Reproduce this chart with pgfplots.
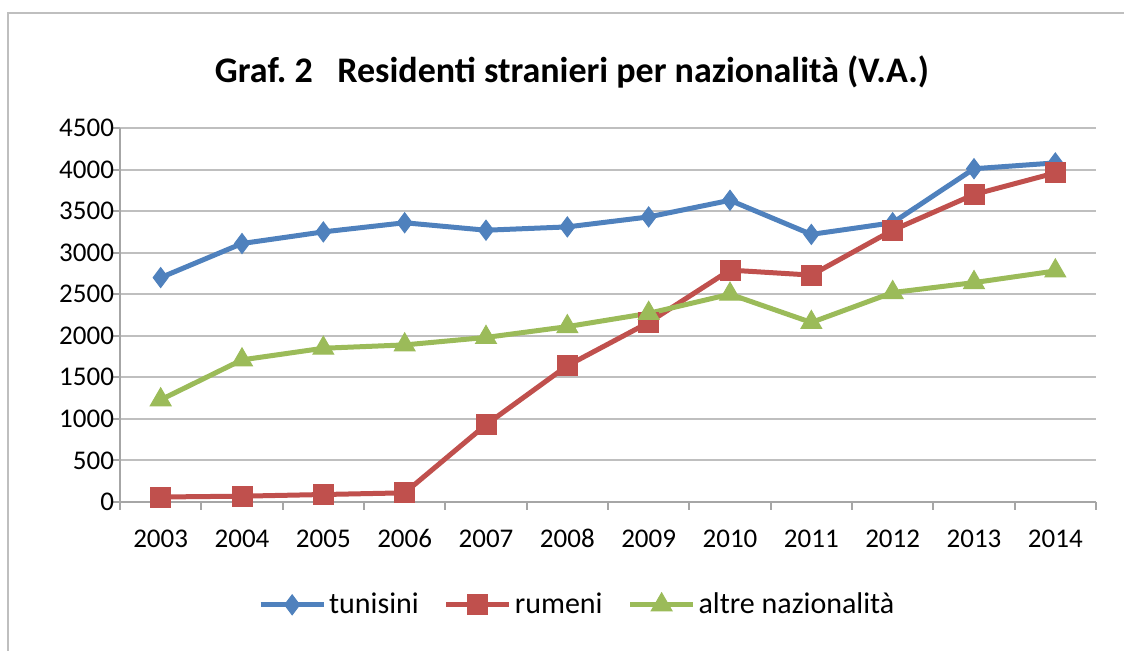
\documentclass[border=0pt]{standalone}
\usepackage{pgfplots}
\pgfplotsset{compat=1.18}
\usepackage{fontspec}
\setmainfont{Carlito}

\definecolor{tunblue}{HTML}{4F81BD}
\definecolor{rumred}{HTML}{C0504D}
\definecolor{altgreen}{HTML}{9BBB59}
\definecolor{gridgray}{HTML}{BFBFBF}
\definecolor{axgray}{HTML}{A6A6A6}

\begin{document}
\begin{tikzpicture}
% page = 1124x651 px at 0.5pt per px, origin at the axis corner
\path[use as bounding box] (-60pt,-74.5pt) rectangle (502pt,251pt);
\draw[gridgray, line width=1pt] (-56pt,-80pt) -- (-56pt,244.5pt) -- (510pt,244.5pt);
\node[font=\fontsize{18}{21}\selectfont\bfseries] at (226pt,215pt)
  {Graf.\ 2\ \ \ Residenti stranieri per nazionalità (V.A.)};
\begin{axis}[
    scale only axis, width=488pt, height=187pt,
    at={(0pt,0pt)}, anchor=south west,
    xmin=-0.5, xmax=11.5, ymin=0, ymax=4500,
    axis lines=left, axis line style={-, axgray, line width=1pt},
    xtick={0,...,11},
    xticklabels={2003,2004,2005,2006,2007,2008,2009,2010,2011,2012,2013,2014},
    ytick={0,500,...,4500},
    minor xtick={-0.5,0.5,...,11.5},
    minor ytick={0,500,...,4500},
    major tick length=0pt, minor tick length=4pt,
    tick align=outside,
    minor tick style={axgray, line width=1pt},
    ymajorgrids, major grid style={gridgray, line width=1pt},
    ticklabel style={font=\fontsize{13.5}{16}\selectfont},
    xticklabel style={anchor=base, yshift=-23pt},
    yticklabel style={xshift=0.5pt},
    /pgf/number format/assume math mode=true,
    /pgf/number format/1000 sep={},
    legend columns=3,
    legend style={at={(0.469,-0.275)}, anchor=center, draw=none,
      font=\fontsize{15}{18}\selectfont,
      nodes={inner sep=1.5pt},
      /tikz/every even column/.append style={column sep=11pt}},
    legend image code/.code={
      \draw[mark repeat=2, mark phase=2] plot coordinates {(0pt,0pt) (15.75pt,0pt) (31.5pt,0pt)};},
    every axis plot/.append style={line width=2.5pt},
]
\addplot[tunblue, mark=diamond*, mark size=5pt, mark options={line width=0.5pt}]
  coordinates {(0,2700) (1,3110) (2,3250) (3,3360) (4,3270) (5,3310)
               (6,3430) (7,3630) (8,3220) (9,3360) (10,4010) (11,4080)};
\addplot[rumred, mark=square*, mark size=5pt, mark options={line width=0.5pt}]
  coordinates {(0,60) (1,70) (2,90) (3,110) (4,930) (5,1640)
               (6,2160) (7,2790) (8,2730) (9,3270) (10,3700) (11,3960)};
\addplot[altgreen, mark=triangle*, mark size=6pt, mark options={line width=0.5pt}]
  coordinates {(0,1230) (1,1710) (2,1850) (3,1890) (4,1980) (5,2110)
               (6,2270) (7,2500) (8,2160) (9,2520) (10,2640) (11,2780)};
\legend{tunisini, rumeni, altre nazionalità}
\end{axis}
\end{tikzpicture}
\end{document}
